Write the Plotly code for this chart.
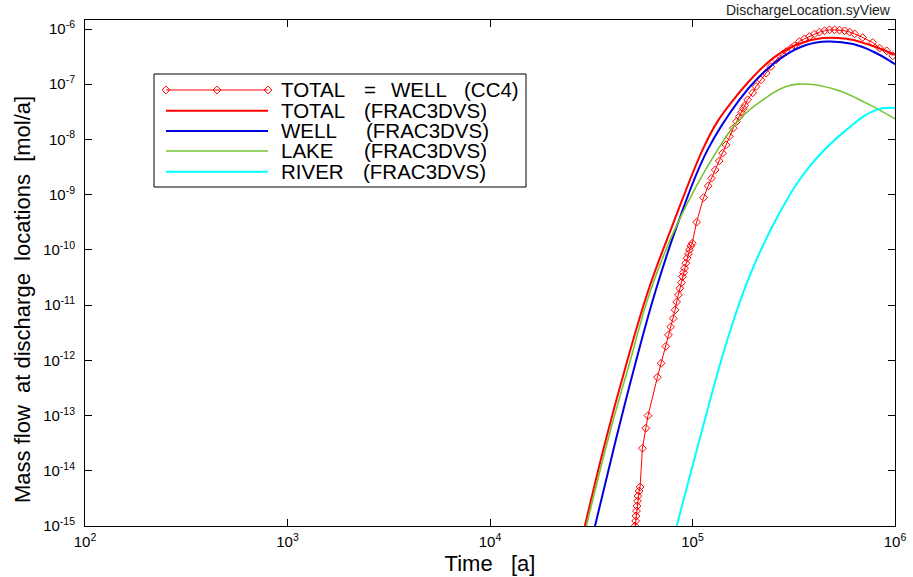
import plotly.graph_objects as go

# ---------------- data ----------------
t_cc4 = [5.12e4, 5.20e4, 5.24e4, 5.26e4, 5.29e4, 5.32e4, 5.35e4, 5.38e4, 5.45e4, 5.51e4,
         5.66e4, 5.88e4, 6.03e4, 6.71e4, 7.00e4, 7.38e4, 7.61e4, 7.80e4, 8.03e4, 8.21e4,
         8.35e4, 8.52e4, 8.66e4, 8.82e4, 8.92e4, 9.03e4, 9.13e4, 9.27e4, 9.41e4, 9.55e4,
         9.66e4, 9.82e4, 9.97e4, 1.047e5, 1.134e5, 1.196e5, 1.242e5, 1.295e5, 1.356e5, 1.408e5,
         1.464e5, 1.519e5, 1.591e5, 1.651e5, 1.703e5, 1.742e5, 1.782e5, 1.813e5, 1.872e5, 1.982e5,
         2.06e5, 2.18e5, 2.31e5, 2.44e5, 2.59e5, 2.79e5, 2.90e5, 3.07e5, 3.19e5, 3.37e5,
         3.57e5, 3.78e5, 4.00e5, 4.24e5, 4.49e5, 4.75e5, 5.03e5, 5.32e5, 5.64e5, 5.97e5,
         6.32e5, 6.92e5, 7.76e5, 8.40e5, 9.10e5, 9.74e5]
v_cc4 = [5.6e-16, 1.0e-15, 1.23e-15, 1.52e-15, 1.87e-15, 2.30e-15, 2.84e-15, 3.49e-15, 4.30e-15, 5.09e-15,
         2.56e-14, 5.89e-14, 9.95e-14, 4.94e-13, 8.85e-13, 1.79e-12, 2.88e-12, 4.03e-12, 5.74e-12, 8.18e-12,
         1.14e-11, 1.53e-11, 2.02e-11, 2.56e-11, 3.28e-11, 3.88e-11, 4.67e-11, 5.74e-11, 7.08e-11, 8.47e-11,
         1.0e-10, 1.18e-10, 1.32e-10, 3.18e-10, 8.85e-10, 1.44e-9, 1.99e-9, 2.81e-9, 4.09e-9, 5.65e-9,
         7.98e-9, 1.13e-8, 1.60e-8, 2.11e-8, 2.60e-8, 3.10e-8, 3.63e-8, 4.11e-8, 5.21e-8, 6.98e-8,
         9.07e-8, 1.20e-7, 1.59e-7, 2.09e-7, 2.77e-7, 3.51e-7, 3.91e-7, 4.51e-7, 4.97e-7, 5.94e-7,
         6.64e-7, 7.31e-7, 8.09e-7, 8.80e-7, 9.28e-7, 9.67e-7, 9.67e-7, 9.55e-7, 9.28e-7, 8.80e-7,
         8.18e-7, 7.02e-7, 5.69e-7, 4.51e-7, 4.03e-7, 3.27e-7]

t_total = [2.69e4, 2.94e4, 3.73e4, 4.70e4, 6.06e4, 7.98e4, 1.121e5, 1.325e5, 1.591e5, 1.975e5,
           2.59e5, 3.37e5, 4.39e5, 5.75e5, 7.22e5, 1.0e6]
v_total = [2.42e-16, 1.0e-15, 3.61e-14, 8.26e-13, 1.88e-11, 2.84e-10, 6.48e-9, 2.08e-8, 5.21e-8, 1.31e-7,
           3.27e-7, 5.40e-7, 6.84e-7, 6.64e-7, 5.40e-7, 3.41e-7]

t_well = [3.00e4, 3.30e4, 4.18e4, 5.20e4, 6.59e4, 8.55e4, 1.187e5, 1.703e5, 2.14e5, 2.79e5,
          3.64e5, 4.66e5, 6.20e5, 7.78e5, 1.0e6]
v_well = [2.42e-16, 1.0e-15, 3.61e-14, 8.26e-13, 1.88e-11, 3.35e-10, 6.48e-9, 5.21e-8, 1.38e-7, 3.13e-7,
          5.13e-7, 5.94e-7, 5.33e-7, 3.91e-7, 2.31e-7]

t_lake = [2.71e4, 2.99e4, 3.82e4, 4.86e4, 6.22e4, 8.55e4, 1.330e5, 1.736e5, 2.21e5, 2.90e5,
          3.78e5, 5.13e5, 7.22e5, 1.0e6]
v_lake = [2.42e-16, 1.0e-15, 3.61e-14, 8.26e-13, 1.88e-11, 3.35e-10, 6.48e-9, 2.46e-8, 5.11e-8, 9.07e-8,
          1.0e-7, 7.93e-8, 4.55e-8, 2.36e-8]

t_river = [7.50e4, 8.35e4, 1.104e5, 1.486e5, 1.909e5, 2.66e5, 3.78e5, 5.75e5, 8.09e5, 1.0e6]
v_river = [2.42e-16, 1.0e-15, 4.79e-14, 2.34e-12, 3.28e-11, 4.31e-10, 3.23e-9, 1.49e-8, 3.44e-8, 3.69e-8]

x_tickvals = [1e2, 1e3, 1e4, 1e5, 1e6]
x_ticktext = ["10<sup>2</sup>", "10<sup>3</sup>", "10<sup>4</sup>", "10<sup>5</sup>", "10<sup>6</sup>"]
y_tickvals = [10.0 ** e for e in range(-15, -5)]
y_ticktext = ["10<sup>-%d</sup>" % k for k in range(15, 5, -1)]

x_title = "Time\u00a0\u00a0\u00a0[a]"
y_title = "Mass flow\u00a0\u00a0at discharge\u00a0\u00a0locations\u00a0\u00a0[mol/a]"
corner_label = "DischargeLocation.syView"

legend_labels = [
    ["TOTAL", "=", "WELL", "(CC4)"],
    ["TOTAL", "(FRAC3DVS)"],
    ["WELL", "(FRAC3DVS)"],
    ["LAKE", "(FRAC3DVS)"],
    ["RIVER", "(FRAC3DVS)"],
]

# ---------------- styles / layout ----------------
W, H = 913, 577
L, R, T, B = 85, 18, 20, 51
PW, PH = W - L - R, H - T - B

RED = "rgb(255,0,0)"
BLUE = "rgb(0,0,225)"
GREEN = "rgb(118,196,52)"
CYAN = "rgb(0,255,255)"
FONT = "Liberation Sans, Arial, sans-serif"


def px2x(px):
    return (px - L) / PW


def px2y(py):
    return (H - B - py) / PH


fig = go.Figure()

fig.add_trace(go.Scatter(x=t_cc4, y=v_cc4, mode="lines+markers",
                         line=dict(color=RED, width=1),
                         marker=dict(symbol="diamond-open", size=6, color=RED, line=dict(width=1, color=RED)),
                         showlegend=False))
spl = dict(shape="spline", smoothing=1.2)
fig.add_trace(go.Scatter(x=t_total, y=v_total, mode="lines", line=dict(color=RED, width=2, **spl),
                         showlegend=False))
fig.add_trace(go.Scatter(x=t_well, y=v_well, mode="lines", line=dict(color=BLUE, width=2, **spl),
                         showlegend=False))
fig.add_trace(go.Scatter(x=t_lake, y=v_lake, mode="lines", line=dict(color=GREEN, width=1.6, **spl),
                         showlegend=False))
fig.add_trace(go.Scatter(x=t_river, y=v_river, mode="lines", line=dict(color=CYAN, width=2, **spl),
                         showlegend=False))

# ---------------- hand-drawn legend (overlay axes in [0,1]) ----------------
row_py = [90, 110.7, 131, 151, 171.7]
sx0, sx1 = px2x(166), px2x(268)
styles = [
    dict(color=RED, width=1),
    dict(color=RED, width=2),
    dict(color=BLUE, width=2),
    dict(color=GREEN, width=1.6),
    dict(color=CYAN, width=2),
]
for i, py in enumerate(row_py):
    yy = px2y(py)
    if i == 0:
        fig.add_trace(go.Scatter(x=[sx0, (sx0 + sx1) / 2, sx1], y=[yy] * 3, mode="lines+markers",
                                 line=styles[i], xaxis="x2", yaxis="y2",
                                 marker=dict(symbol="diamond-open", size=6, color=RED,
                                             line=dict(width=1, color=RED)),
                                 showlegend=False, hoverinfo="skip"))
    else:
        fig.add_trace(go.Scatter(x=[sx0, sx1], y=[yy] * 2, mode="lines", line=styles[i],
                                 xaxis="x2", yaxis="y2", showlegend=False, hoverinfo="skip"))

word_px = [
    [279, 362, 389, 462],
    [279, 362],
    [279, 364],
    [279, 362],
    [279, 361],
]
annotations = []
for i, words in enumerate(legend_labels):
    for w, wx in zip(words, word_px[i]):
        annotations.append(dict(text=w, x=px2x(wx), y=px2y(row_py[i]), xref="paper", yref="paper",
                                xanchor="left", yanchor="middle", showarrow=False,
                                font=dict(family=FONT, size=20.5, color="black")))

annotations.append(dict(text=corner_label, x=px2x(893), y=px2y(10), xref="paper", yref="paper",
                        xanchor="right", yanchor="middle", showarrow=False,
                        font=dict(family=FONT, size=14, color="#222")))
# y-axis title (placed like the reference: slightly below the axis centre)
annotations.append(dict(text=y_title, x=px2x(22), y=px2y(300), xref="paper", yref="paper",
                        xanchor="center", yanchor="middle", textangle=-90, showarrow=False,
                        font=dict(family=FONT, size=22, color="black")))

shapes = [dict(type="rect", xref="paper", yref="paper", x0=px2x(154), x1=px2x(526),
               y0=px2y(187), y1=px2y(74), line=dict(color="black", width=1),
               fillcolor="white", layer="below")]

axis_common = dict(type="log", showline=True, linecolor="black", linewidth=1, mirror="ticks",
                   ticks="inside", ticklen=7, tickwidth=1, tickcolor="black",
                   showgrid=False, zeroline=False, automargin=False,
                   tickfont=dict(family=FONT, size=15, color="black"))

fig.update_layout(
    width=W, height=H, autosize=False,
    margin=dict(l=L, r=R, t=T, b=B, pad=0, autoexpand=False),
    paper_bgcolor="white", plot_bgcolor="white",
    showlegend=False,
    xaxis=dict(axis_common, range=[2, 6], tickvals=x_tickvals, ticktext=x_ticktext,
               ticklabelstandoff=2,
               title=dict(text=x_title, font=dict(family=FONT, size=22, color="black"),
                          standoff=6)),
    yaxis=dict(axis_common, range=[-15, -5.837], tickvals=y_tickvals, ticktext=y_ticktext,
               ticklabelstandoff=6),
    xaxis2=dict(overlaying="x", anchor="y2", range=[0, 1], visible=False, fixedrange=True,
                automargin=False),
    yaxis2=dict(overlaying="y", anchor="x2", range=[0, 1], visible=False, fixedrange=True,
                automargin=False),
    annotations=annotations,
    shapes=shapes,
)

fig.write_html("out.html")
